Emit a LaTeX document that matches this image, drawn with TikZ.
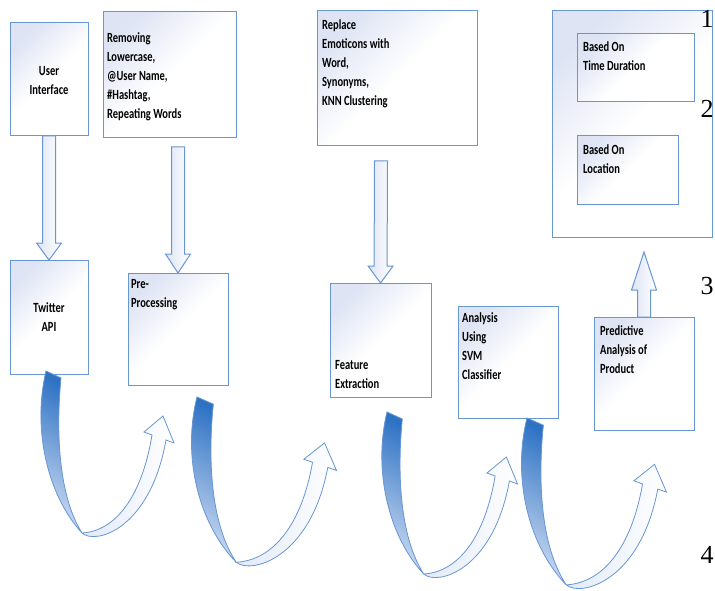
\documentclass[tikz,border=0pt]{standalone}
\usepackage{fontspec}
\setmainfont{Carlito}
\newfontfamily\numfont{Liberation Serif}
\usetikzlibrary{calc}

\definecolor{edgeblue}{RGB}{104,150,210}
\definecolor{boxtint}{RGB}{222,228,244}
\definecolor{swoopdark}{RGB}{46,114,196}
\definecolor{swooppale}{RGB}{205,220,242}

% hollow block arrow: tail, tip, head length
\newcommand{\blockarrow}[3]{%
	\draw[blockarr] let \p1=(#1), \p2=(#2), \p3=($(#2)!#3!(#1)$) in
		(\x1-6.5pt,\y1) -- (\x3-6.5pt,\y3) -- (\x3-12.5pt,\y3) -- (\x2,\y2)
		-- (\x3+12.5pt,\y3) -- (\x3+6.5pt,\y3) -- (\x1+6.5pt,\y1) -- cycle;}

% twisted ribbon arrow, drawn from its top corner
\newcommand{\swoop}{%
	\draw[ribbondark] (0,0) -- (15,7) .. controls (10,59) and (12,124) .. (36,162)
		.. controls (2,125) and (-14,59) .. (0,0) -- cycle;
	\draw[ribbonlight] (36,162) .. controls (49,174) and (104,159) .. (120,69)
		-- (128,72) -- (117,45) -- (98,61) -- (106,64)
		.. controls (96,125) and (70,160) .. (36,162) -- cycle;}

\begin{document}
\begin{tikzpicture}[
				x=1pt, y=-1pt,
				box/.style={rectangle, draw=edgeblue, line width=1pt, inner sep=0pt, outer sep=0pt,
					anchor=north west, top color=boxtint, bottom color=white, middle color=white, shading angle=45},
				txt/.style={font=\bfseries\fontsize{14}{19}\selectfont, align=left, inner sep=0pt,
					anchor=north west, xscale=0.75},
				ctxt/.style={txt, align=center, anchor=center},
				num/.style={font=\numfont\fontsize{26}{26}\selectfont, inner sep=0pt},
				blockarr/.style={draw=edgeblue, line width=1pt, left color=boxtint, right color=white},
				ribbondark/.style={draw=edgeblue, line width=0.8pt, top color=swoopdark,
					bottom color=swooppale, shading angle=-30},
				ribbonlight/.style={draw=edgeblue, line width=0.8pt, left color=swooppale!60!white,
					right color=white}]

			\useasboundingbox (0,0) rectangle (715,591);

			% upper row
			\node[box, minimum width=78, minimum height=113] (ui) at (10,23) {};
			\node[box, minimum width=133, minimum height=126] (rm) at (103,12) {};
			\node[box, minimum width=160, minimum height=135] (rep) at (317,11) {};
			\node[box, minimum width=160, minimum height=226] (out) at (552,11) {};
			\node[box, minimum width=117, minimum height=68] (td) at (577,34) {};
			\node[box, minimum width=101, minimum height=68] (loc) at (577,136) {};

			% lower row
			\node[box, minimum width=78, minimum height=114] (tw) at (10,260) {};
			\node[box, minimum width=100, minimum height=112] (pre) at (128,273) {};
			\node[box, minimum width=101, minimum height=114] (feat) at (330,283) {};
			\node[box, minimum width=100, minimum height=112] (svm) at (458,306) {};
			\node[box, minimum width=100, minimum height=113] (pred) at (594,317) {};

			% texts
			\node[ctxt] (ui-t) at (49,81) {User\\Interface};
			\node[txt] (rm-t) at (107,32) {Removing\\Lowercase,\\@User Name,\\\#Hashtag,\\Repeating Words};
			\node[txt] (rep-t) at (322,19) {Replace\\Emoticons with\\Word,\\Synonyms,\\KNN Clustering};
			\node[txt] (td-t) at (583,41) {Based On\\Time Duration};
			\node[txt] (loc-t) at (583,144) {Based On\\Location};
			\node[ctxt] (tw-t) at (49,317) {Twitter\\API};
			\node[txt] (pre-t) at (131,279) {Pre-\\Processing};
			\node[txt] (feat-t) at (335,360) {Feature\\Extraction};
			\node[txt] (svm-t) at (462,312) {Analysis\\Using\\SVM\\Classifier};
			\node[txt] (pred-t) at (600,325) {Predictive\\Analysis of\\Product};

			\node[num] (n1) at (707,19) {1};
			\node[num] (n2) at (707,109) {2};
			\node[num] (n3) at (707,286) {3};
			\node[num] (n4) at (707,555) {4};

			% block arrows
			\coordinate (rm-tail) at (178,147);
			\coordinate (rep-tail) at (381,161);
			\coordinate (out-in) at (644,252);
			\blockarrow{ui.south}{tw.north}{17pt}
			\blockarrow{rm-tail}{pre.north}{19pt}
			\blockarrow{rep-tail}{feat.north}{17pt}
			\blockarrow{pred.north}{out-in}{38pt}

			% ribbons between the lower boxes
			\begin{scope}[shift={(tw.south west)}, shift={(36,-3)}]
				\swoop
			\end{scope}
			\begin{scope}[shift={(pre.south west)}, shift={(69,12)}, xscale=1.09, yscale=1.02]
				\swoop
			\end{scope}
			\begin{scope}[shift={(feat.south west)}, shift={(57,15)}, xscale=1.02]
				\swoop
			\end{scope}
			\begin{scope}[shift={(svm.south west)}, shift={(69,0)}, xscale=1.09, yscale=1.03]
				\swoop
			\end{scope}

		\end{tikzpicture}
\end{document}
